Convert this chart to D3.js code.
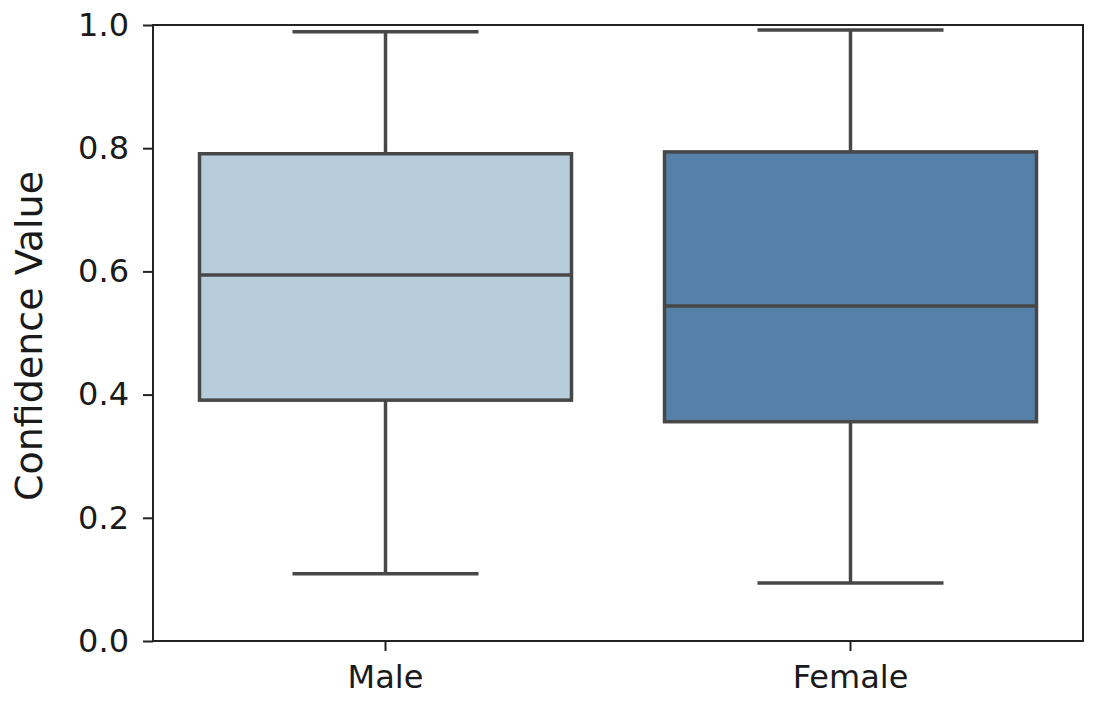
<!DOCTYPE html>
<html>
<head>
<meta charset="utf-8">
<script src="https://cdn.jsdelivr.net/npm/d3@7"></script>
<style>
  body { margin: 0; background: #fff; }
  svg text { font-family: "DejaVu Sans", sans-serif; fill: #1a1a1a; }
</style>
</head>
<body>
<div id="chart"></div>
<script>
// box stats
const categories = ['Male', 'Female']
const whiskerLow = [0.109, 0.094]
const q1 = [0.391, 0.356]
const median = [0.594, 0.544]
const q3 = [0.791, 0.794]
const whiskerHigh = [0.989, 0.992]
const boxColors = ['#b7cddc', '#5581a9']
const yTicks = [0, 0.2, 0.4, 0.6, 0.8, 1.0]

const size = { width: 1098, height: 708 }
const margin = { top: 25, right: 15, bottom: 67, left: 153 }
const edge = '#474747'

const svg = d3.select('#chart')
  .append('svg')
  .attr('width', size.width)
  .attr('height', size.height)

const x = d3.scaleBand()
  .domain(categories)
  .range([margin.left, size.width - margin.right])
  .paddingInner(0.2)
  .paddingOuter(0.1)

const y = d3.scaleLinear()
  .domain([0, 1])
  .range([size.height - margin.bottom, margin.top])

const boxes = categories.map((c, i) => ({
  cat: c, lo: whiskerLow[i], q1: q1[i], med: median[i], q3: q3[i], hi: whiskerHigh[i], color: boxColors[i]
}))

const g = svg.append('g')

const groups = g.selectAll('g.box')
  .data(boxes)
  .enter()
  .append('g')
  .attr('class', 'box')

const cx = d => x(d.cat) + x.bandwidth() / 2
const capHalf = x.bandwidth() / 4

// whiskers
groups.append('line')
  .attr('x1', cx).attr('x2', cx)
  .attr('y1', d => y(d.q3)).attr('y2', d => y(d.hi))
  .attr('stroke', edge).attr('stroke-width', 3.5)
groups.append('line')
  .attr('x1', cx).attr('x2', cx)
  .attr('y1', d => y(d.q1)).attr('y2', d => y(d.lo))
  .attr('stroke', edge).attr('stroke-width', 3.5)
// caps
groups.append('line')
  .attr('x1', d => cx(d) - capHalf).attr('x2', d => cx(d) + capHalf)
  .attr('y1', d => y(d.hi)).attr('y2', d => y(d.hi))
  .attr('stroke', edge).attr('stroke-width', 3.5)
groups.append('line')
  .attr('x1', d => cx(d) - capHalf).attr('x2', d => cx(d) + capHalf)
  .attr('y1', d => y(d.lo)).attr('y2', d => y(d.lo))
  .attr('stroke', edge).attr('stroke-width', 3.5)

// box
groups.append('rect')
  .attr('x', d => x(d.cat))
  .attr('width', x.bandwidth())
  .attr('y', d => y(d.q3))
  .attr('height', d => y(d.q1) - y(d.q3))
  .attr('fill', d => d.color)
  .attr('stroke', edge).attr('stroke-width', 3.5)

// median
groups.append('line')
  .attr('x1', d => x(d.cat)).attr('x2', d => x(d.cat) + x.bandwidth())
  .attr('y1', d => y(d.med)).attr('y2', d => y(d.med))
  .attr('stroke', edge).attr('stroke-width', 3.5)

// frame
svg.append('rect')
  .attr('x', margin.left)
  .attr('y', margin.top)
  .attr('width', size.width - margin.right - margin.left)
  .attr('height', size.height - margin.bottom - margin.top)
  .attr('fill', 'none')
  .attr('stroke', '#222').attr('stroke-width', 2)

// axes
svg.append('g')
  .attr('transform', `translate(${margin.left},0)`)
  .call(d3.axisLeft(y).tickValues(yTicks).tickFormat(d3.format('.1f')).tickSize(10).tickPadding(14))
svg.append('g')
  .attr('transform', `translate(0,${size.height - margin.bottom})`)
  .call(d3.axisBottom(x).tickSize(10).tickPadding(14))

svg.selectAll('.domain').remove()
svg.selectAll('.tick line').attr('stroke', '#222').attr('stroke-width', 2)
svg.selectAll('.tick text').style('font-size', '32px').attr('fill', '#1a1a1a')

svg.append('text')
  .attr('transform', `translate(42,${(margin.top + size.height - margin.bottom) / 2 + 3}) rotate(-90)`)
  .attr('text-anchor', 'middle')
  .style('font-size', '38px')
  .text('Confidence Value')
</script>
</body>
</html>
